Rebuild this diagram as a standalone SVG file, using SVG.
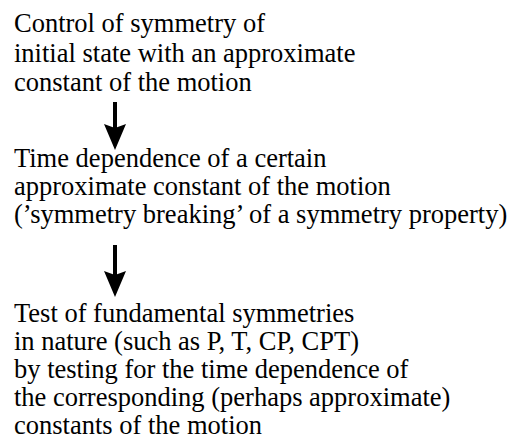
<svg xmlns="http://www.w3.org/2000/svg" width="512" height="440" viewBox="0 0 512 440">
<style>
text{font-family:"Liberation Serif","Times New Roman",serif;font-size:26.5px;fill:#000}
.arrow{stroke:#000;stroke-width:4;fill:none}
</style>
<defs>
<marker id="ah" markerUnits="userSpaceOnUse" markerWidth="28" markerHeight="24" refX="4" refY="11" orient="auto">
<path d="M0,0 L26,11 L0,22 L4,11 Z" fill="#000"/>
</marker>
</defs>
<rect width="512" height="440" fill="#fff"/>
<g id="node1">
<text x="14" y="32">Control of symmetry of</text>
<text x="14" y="62">initial state with an approximate</text>
<text x="14" y="91">constant of the motion</text>
</g>
<g id="node2">
<text x="14" y="167">Time dependence of a certain</text>
<text x="14" y="195">approximate constant of the motion</text>
<text x="14" y="223">(’symmetry breaking’ of a symmetry property)</text>
</g>
<g id="node3">
<text x="14" y="322">Test of fundamental symmetries</text>
<text x="14" y="350">in nature (such as P, T, CP, CPT)</text>
<text x="14" y="378">by testing for the time dependence of</text>
<text x="14" y="406">the corresponding (perhaps approximate)</text>
<text x="14" y="434">constants of the motion</text>
</g>
<g id="connectors">
<path class="arrow" d="M115,102 L115,128" marker-end="url(#ah)"/>
<path class="arrow" d="M115,245 L115,275" marker-end="url(#ah)"/>
</g>
</svg>
